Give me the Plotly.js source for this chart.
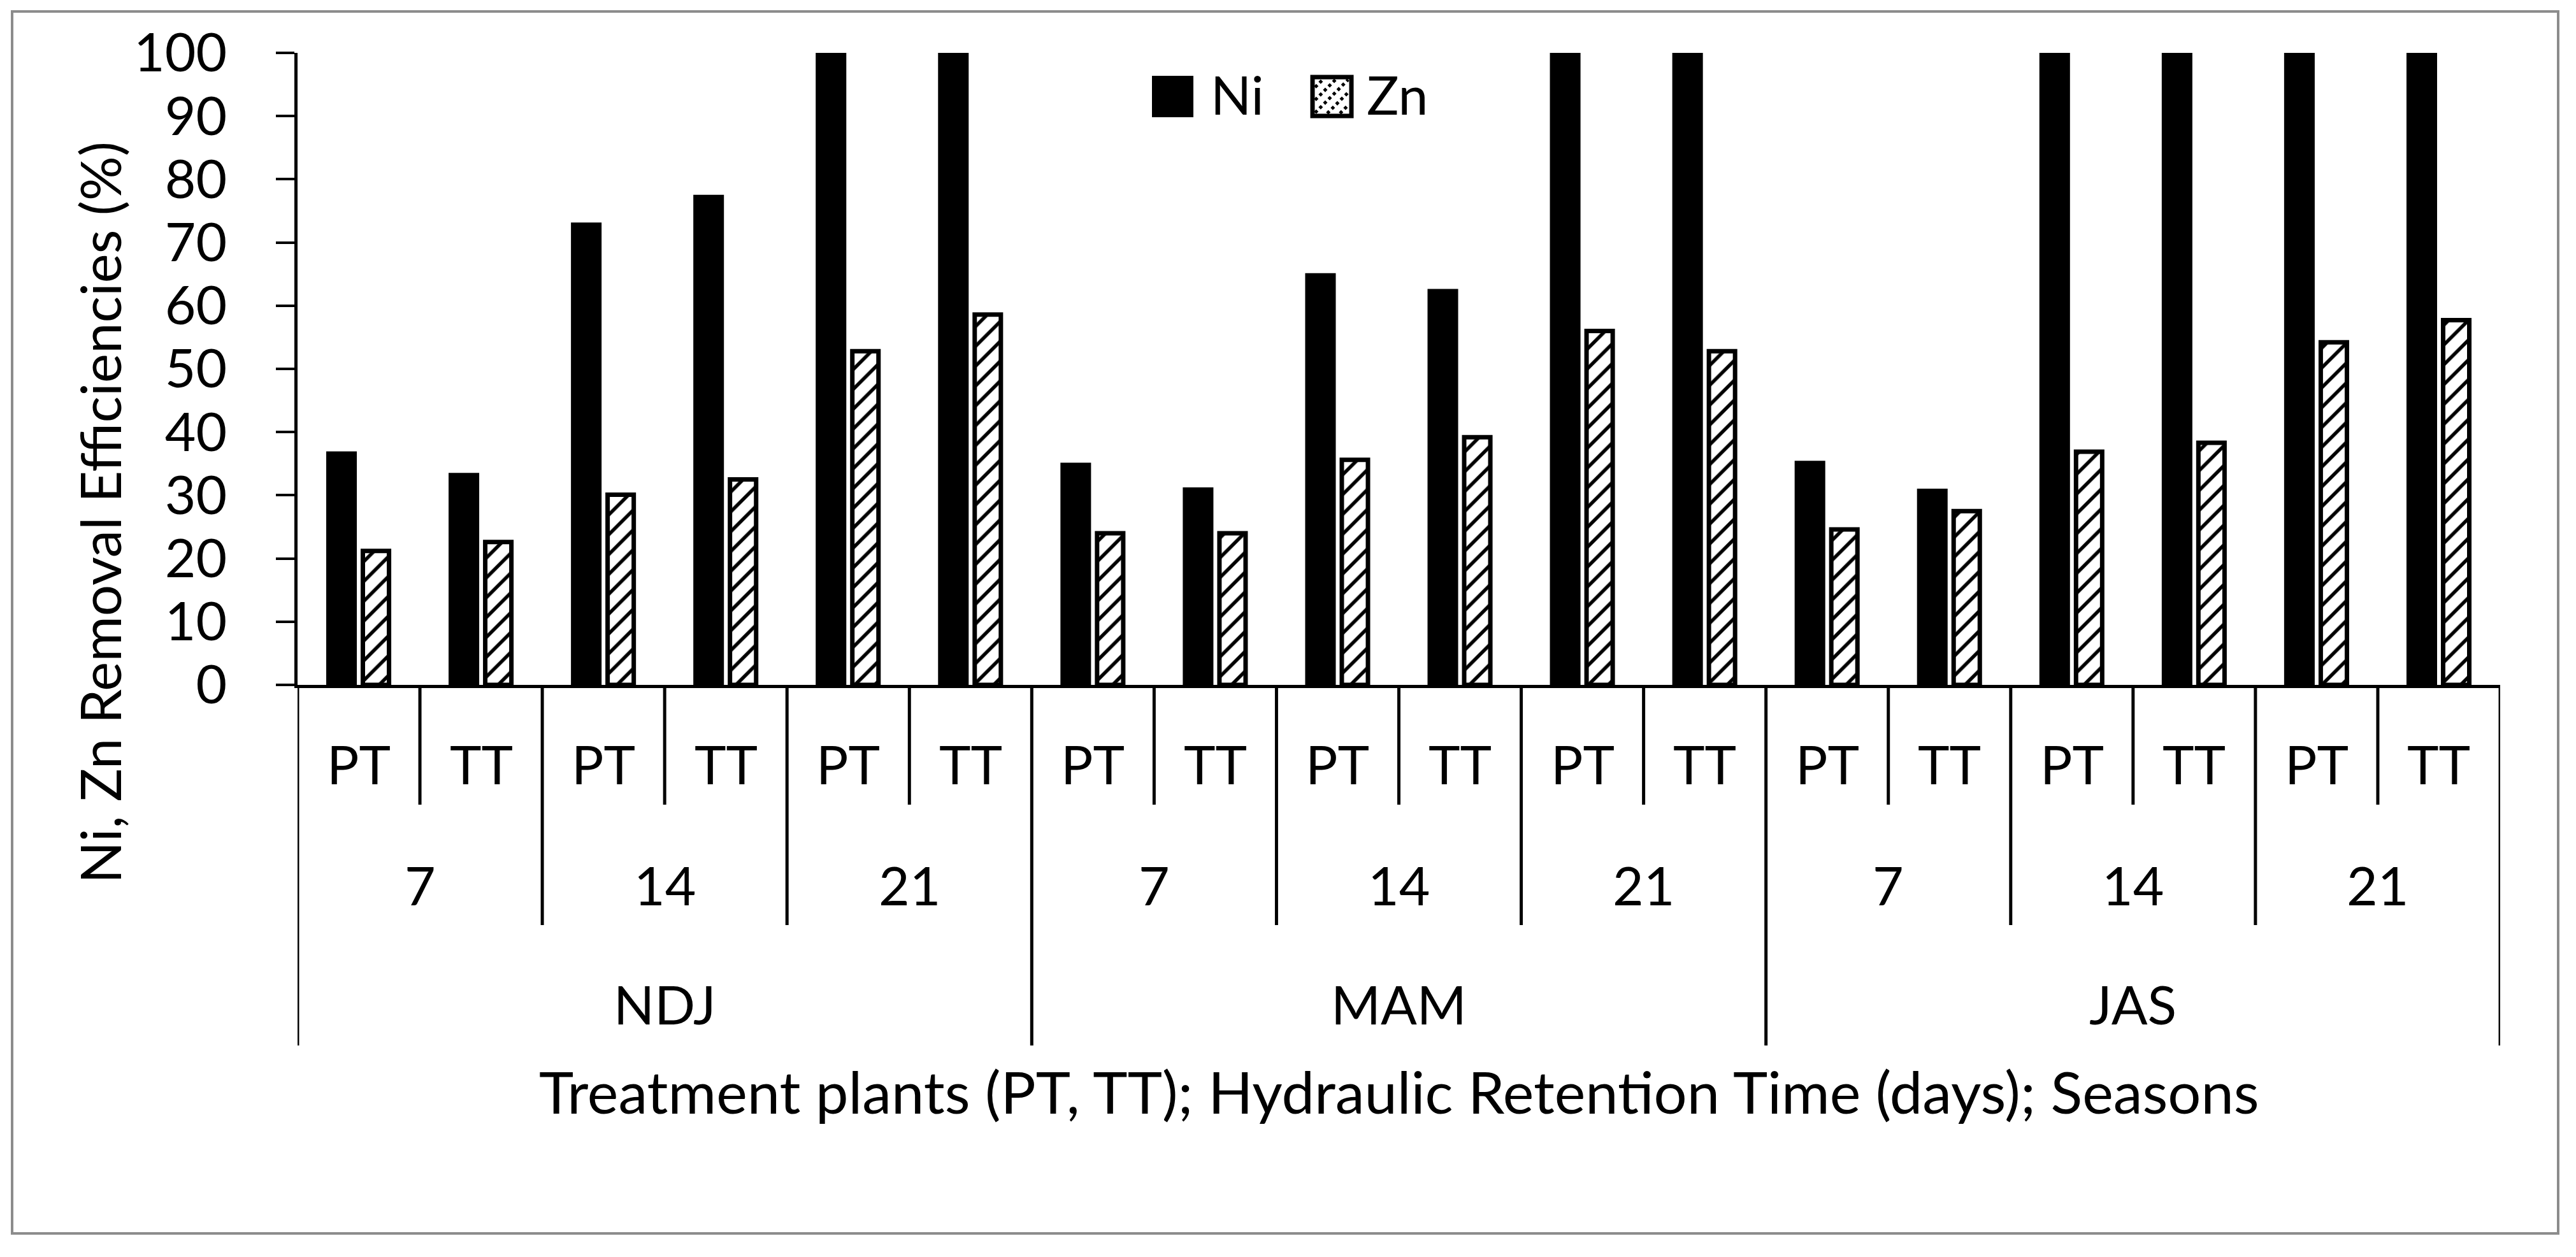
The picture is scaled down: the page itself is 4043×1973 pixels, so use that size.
<!DOCTYPE html>
<html>
<head>
<meta charset="utf-8">
<script src="https://cdn.plot.ly/plotly-3.0.1.min.js"></script>
<style>html,body{margin:0;padding:0;background:#fff;}#chart{width:4043px;height:1973px;}</style>
</head>
<body>
<div id="chart"></div>
<script>
// ---- data ----
var seasons = ['NDJ', 'MAM', 'JAS'];
var hrtDays = ['7', '14', '21'];
var plants = ['PT', 'TT'];
var niValues = [36.6, 33.2, 72.8, 77.2, 100, 100,
                34.8, 30.9, 64.8, 62.3, 100, 100,
                35.1, 30.7, 100, 100, 100, 100];
var znValues = [21.2, 22.6, 30.1, 32.5, 52.8, 58.6,
                24.0, 24.0, 35.6, 39.2, 56.0, 52.8,
                24.6, 27.5, 36.9, 38.3, 54.2, 57.7];
var seriesNames = ['Ni', 'Zn'];
var yTickVals = [0, 10, 20, 30, 40, 50, 60, 70, 80, 90, 100];
var yTitle = 'Ni, Zn Removal Efficiencies (%)';
var xTitle = 'Treatment plants (PT, TT); Hydraulic Retention Time (days); Seasons';

// ---- build categories ----
var cats = [];
seasons.forEach(function (s) {
  hrtDays.forEach(function (h) {
    plants.forEach(function (p) { cats.push(s + '|' + h + '|' + p); });
  });
});

// ---- layout geometry (pixels) ----
var W = 4043, H = 1973;
var L = 467, R = 119, T = 83, B = 898;
var PW = W - L - R, PH = H - T - B;
function px(x) { return (x - L) / PW; }
function py(y) { return (H - B - y) / PH; }

var FONT = 'Lato, "Open Sans", sans-serif';
var FS = 84;

var lineW = 7;
var traces = [
  {
    type: 'bar', name: seriesNames[0], x: cats, y: niValues,
    marker: { color: '#000000', line: { color: '#000000', width: lineW } },
    showlegend: false, hoverinfo: 'x+y'
  },
  {
    type: 'bar', name: seriesNames[1], x: cats, y: znValues,
    marker: {
      color: '#ffffff',
      line: { color: '#000000', width: lineW },
      pattern: { shape: '/', fgcolor: '#000000', bgcolor: '#ffffff', size: 22, solidity: 0.25, fillmode: 'replace' }
    },
    showlegend: false, hoverinfo: 'x+y'
  }
];

var shapes = [];
var annotations = [];
var nP = plants.length, nH = hrtDays.length, nS = seasons.length;
var n = cats.length;

// separator lines of the hierarchical category axis
var row1End = py(1263), row2End = py(1452), row3End = py(1641);
for (var b = 0; b <= n; b++) {
  var yEnd;
  if (b % (nP * nH) === 0) yEnd = row3End;
  else if (b % nP === 0) yEnd = row2End;
  else yEnd = row1End;
  shapes.push({ type: 'line', xref: 'x', yref: 'paper', x0: b - 0.5, x1: b - 0.5, y0: 0, y1: yEnd,
                line: { color: '#000000', width: 5 } });
}
// level labels
cats.forEach(function (c, i) {
  annotations.push({ xref: 'x', yref: 'paper', x: i, y: py(1198), text: plants[i % nP],
                     showarrow: false, xanchor: 'center', yanchor: 'middle', font: { family: FONT, size: FS, color: '#000' } });
});
for (var g = 0; g < nS * nH; g++) {
  annotations.push({ xref: 'x', yref: 'paper', x: g * nP + (nP - 1) / 2, y: py(1388), text: hrtDays[g % nH],
                     showarrow: false, xanchor: 'center', yanchor: 'middle', font: { family: FONT, size: FS, color: '#000' } });
}
for (var s = 0; s < nS; s++) {
  annotations.push({ xref: 'x', yref: 'paper', x: s * nP * nH + (nP * nH - 1) / 2, y: py(1576), text: seasons[s],
                     showarrow: false, xanchor: 'center', yanchor: 'middle', font: { family: FONT, size: FS, color: '#000' } });
}
// axis titles
annotations.push({ xref: 'paper', yref: 'paper', x: 0.5, y: py(1712), text: xTitle, showarrow: false,
                   xanchor: 'center', yanchor: 'middle', font: { family: FONT, size: 92, color: '#000' } });
annotations.push({ xref: 'paper', yref: 'paper', x: px(156), y: py(805), text: yTitle, showarrow: false, textangle: -90,
                   xanchor: 'center', yanchor: 'middle', font: { family: FONT, size: 87, color: '#000' } });

// ---- legend (custom, large swatches) ----
var sq = [{ x0: 1810, x1: 1871 }, { x0: 2060, x1: 2121 }];
var sqY0 = 121, sqY1 = 182;
shapes.push({ type: 'rect', xref: 'paper', yref: 'paper', x0: px(sq[0].x0), x1: px(sq[0].x1), y0: py(sqY1), y1: py(sqY0),
              fillcolor: '#000000', line: { color: '#000000', width: 4 } });
shapes.push({ type: 'rect', xref: 'paper', yref: 'paper', x0: px(sq[1].x0), x1: px(sq[1].x1), y0: py(sqY1), y1: py(sqY0),
              fillcolor: '#ffffff', line: { color: '#000000', width: 7 } });
(function () {
  var x0 = sq[1].x0 + 4, x1 = sq[1].x1 - 4, y0 = sqY0 + 4, y1 = sqY1 - 4;
  for (var c = x0 + y0 + 12; c < x1 + y1 - 6; c += 20) {
    var xa = Math.max(x0, c - y1), xb = Math.min(x1, c - y0);
    if (xb - xa < 3) continue;
    shapes.push({ type: 'line', xref: 'paper', yref: 'paper', x0: px(xa), y0: py(c - xa), x1: px(xb), y1: py(c - xb),
                  line: { color: '#000000', width: 5, dash: 'dot' } });
  }
})();
annotations.push({ xref: 'paper', yref: 'paper', x: px(1898), y: py(147), text: seriesNames[0], showarrow: false,
                   xanchor: 'left', yanchor: 'middle', font: { family: FONT, size: FS, color: '#000' } });
annotations.push({ xref: 'paper', yref: 'paper', x: px(2143), y: py(147), text: seriesNames[1], showarrow: false,
                   xanchor: 'left', yanchor: 'middle', font: { family: FONT, size: FS, color: '#000' } });

// chart border
shapes.push({ type: 'rect', xref: 'paper', yref: 'paper', x0: px(19), x1: px(4015), y0: py(1936), y1: py(18),
              fillcolor: 'rgba(0,0,0,0)', line: { color: '#8c8c8c', width: 4 }, layer: 'below' });

var layout = {
  width: W, height: H,
  margin: { l: L, r: R, t: T, b: B, pad: 0 },
  paper_bgcolor: '#ffffff', plot_bgcolor: '#ffffff',
  barmode: 'group', bargap: 0.4375, bargroupgap: 0.24,
  showlegend: false,
  font: { family: FONT, size: FS, color: '#000000' },
  xaxis: {
    type: 'category', categoryorder: 'array', categoryarray: cats,
    range: [-0.5, n - 0.5], showticklabels: false, ticks: '', showgrid: false, zeroline: false,
    showline: true, linecolor: '#000000', linewidth: 5, fixedrange: true
  },
  yaxis: {
    range: [0, 100], tickvals: yTickVals, ticktext: yTickVals.map(String),
    ticks: 'outside', ticklen: 29, tickwidth: 4, tickcolor: '#000000',
    showline: true, linecolor: '#000000', linewidth: 5, showgrid: false, zeroline: false,
    tickfont: { family: FONT, size: FS, color: '#000000' }, ticklabelstandoff: 60, fixedrange: true
  },
  shapes: shapes,
  annotations: annotations
};

Plotly.newPlot('chart', traces, layout, { displayModeBar: false, staticPlot: true });
</script>
</body>
</html>
